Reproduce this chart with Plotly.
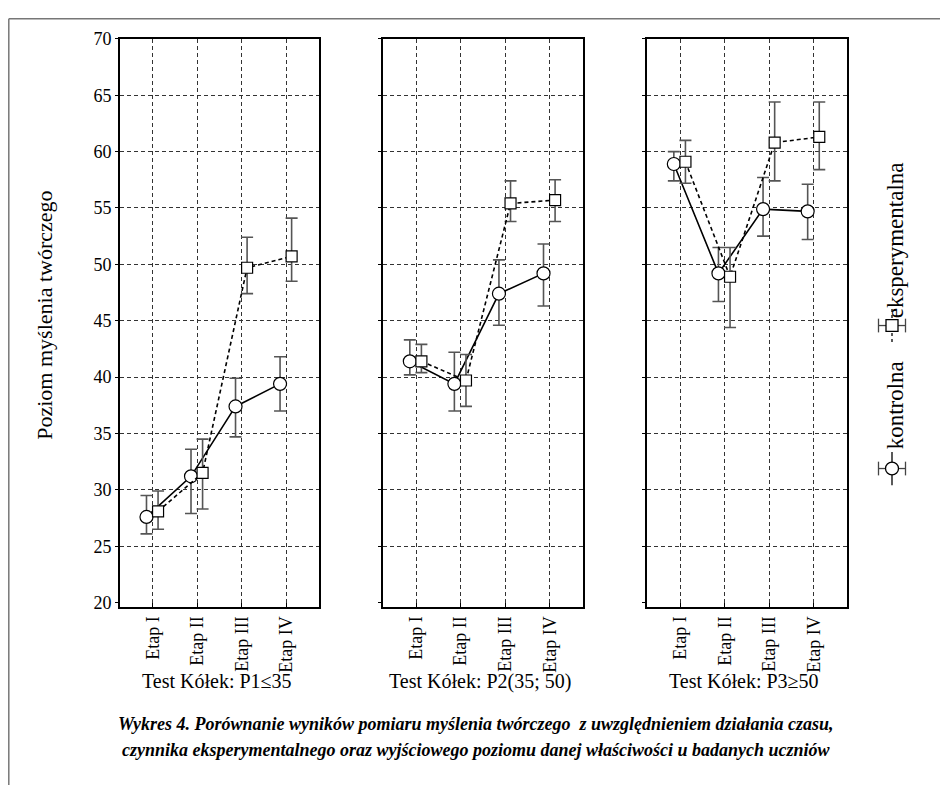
import plotly.graph_objects as go

# ---------------- data ----------------
stages = ["Etap I", "Etap II", "Etap III", "Etap IV"]
panel_titles = ["Test Kółek: P1≤35", "Test Kółek: P2(35; 50)", "Test Kółek: P3≥50"]
y_ticks = [20, 25, 30, 35, 40, 45, 50, 55, 60, 65, 70]

# kontrolna (circles, solid line)
kontrolna_p1 = [27.6, 31.2, 37.4, 39.4]
kontrolna_p1_hi = [29.5, 33.6, 39.9, 41.8]
kontrolna_p1_lo = [26.1, 27.9, 34.7, 37.0]
kontrolna_p2 = [41.4, 39.4, 47.4, 49.2]
kontrolna_p2_hi = [43.3, 42.2, 50.4, 51.8]
kontrolna_p2_lo = [40.2, 37.0, 44.6, 46.3]
kontrolna_p3 = [58.9, 49.2, 54.9, 54.7]
kontrolna_p3_hi = [60.0, 51.5, 57.7, 57.1]
kontrolna_p3_lo = [57.4, 46.7, 52.5, 52.2]

# eksperymentalna (squares, dashed line)
eksp_p1 = [28.1, 31.5, 49.7, 50.7]
eksp_p1_hi = [29.9, 34.5, 52.4, 54.1]
eksp_p1_lo = [26.5, 28.3, 47.4, 48.5]
eksp_p2 = [41.4, 39.7, 55.4, 55.7]
eksp_p2_hi = [42.9, 42.0, 57.4, 57.5]
eksp_p2_lo = [40.4, 37.4, 53.8, 53.8]
eksp_p3 = [59.1, 48.9, 60.8, 61.3]
eksp_p3_hi = [61.0, 51.5, 64.4, 64.4]
eksp_p3_lo = [57.2, 44.4, 57.4, 58.4]

kontrolna = [(kontrolna_p1, kontrolna_p1_hi, kontrolna_p1_lo),
             (kontrolna_p2, kontrolna_p2_hi, kontrolna_p2_lo),
             (kontrolna_p3, kontrolna_p3_hi, kontrolna_p3_lo)]
eksp = [(eksp_p1, eksp_p1_hi, eksp_p1_lo),
        (eksp_p2, eksp_p2_hi, eksp_p2_lo),
        (eksp_p3, eksp_p3_hi, eksp_p3_lo)]

# ---------------- layout helpers ----------------
PAGE_W, PAGE_H = 948, 793
BODY = 8  # default body margin of the html page
W, H = PAGE_W - 2 * BODY, PAGE_H - 2 * BODY


def px(x):
    return (x - BODY) / W


def py(y):
    return 1 - (y - BODY) / H


SERIF = "Liberation Serif"
panel_px = [(120, 319), (383.3, 582.5), (647.3, 846.7)]
y_top_px, y_bot_px = 29.3, 609.5
OFF_K, OFF_E = -0.14, 0.12

fig = go.Figure()

for i in range(3):
    xa = "x" if i == 0 else f"x{i+1}"
    ya = "y" if i == 0 else f"y{i+1}"
    xs = list(range(len(stages)))
    m, hi, lo = kontrolna[i]
    fig.add_trace(go.Scatter(
        x=[v + OFF_K for v in xs], y=m, xaxis=xa, yaxis=ya,
        mode="lines+markers", showlegend=False,
        line=dict(color="black", width=1.6),
        marker=dict(symbol="circle", size=13, color="white",
                    line=dict(color="black", width=1.2)),
        error_y=dict(type="data", symmetric=False,
                     array=[h - v for h, v in zip(hi, m)],
                     arrayminus=[v - l for v, l in zip(m, lo)],
                     color="#555", thickness=1.6, width=6),
    ))
    m, hi, lo = eksp[i]
    fig.add_trace(go.Scatter(
        x=[v + OFF_E for v in xs], y=m, xaxis=xa, yaxis=ya,
        mode="lines+markers", showlegend=False,
        line=dict(color="black", width=1.6, dash="4px,3px"),
        marker=dict(symbol="square", size=11, color="white",
                    line=dict(color="black", width=1.2)),
        error_y=dict(type="data", symmetric=False,
                     array=[h - v for h, v in zip(hi, m)],
                     arrayminus=[v - l for v, l in zip(m, lo)],
                     color="#555", thickness=1.6, width=6),
    ))

grid_style = dict(gridcolor="#333", gridwidth=1, griddash="4px,3px")
axis_common = dict(showline=True, linecolor="black", linewidth=2, mirror=True,
                   zeroline=False, tickfont=dict(family=SERIF, size=18, color="black"))

layout = dict(width=W, height=H, margin=dict(l=0, r=0, t=0, b=0),
              paper_bgcolor="white", plot_bgcolor="white", showlegend=False)

for i, (l, r) in enumerate(panel_px):
    sx = "" if i == 0 else str(i + 1)
    layout["xaxis" + sx] = dict(axis_common, **grid_style, showgrid=True,
                                domain=[px(l), px(r)], range=[-0.735, 3.735],
                                tickvals=list(range(len(stages))), ticktext=stages,
                                tickangle=-90, ticks="inside", ticklen=4, tickcolor="black",
                                anchor="y" + sx)
    layout["yaxis" + sx] = dict(axis_common, showgrid=False,
                                minor=dict(tickvals=y_ticks[1:], showgrid=True, **grid_style),
                                domain=[py(y_bot_px), py(y_top_px)],
                                range=[19.6, 70], tickvals=y_ticks,
                                showticklabels=(i == 0), ticks="outside", ticklen=3,
                                tickcolor="black", anchor="x" + sx)
    if i > 0:
        layout["yaxis" + sx]["matches"] = "y"

fig.update_layout(**layout)


def note(x, y, text, size, angle=0):
    return dict(x=px(x), y=py(y), xref="paper", yref="paper", text=text,
                showarrow=False, textangle=angle, xanchor="center", yanchor="middle",
                font=dict(family=SERIF, size=size, color="black"))


ann = []
for i, (l, r) in enumerate(panel_px):
    ann.append(note((l + r) / 2 - 3, 685, panel_titles[i], 20))
ann.append(note(45, 312, "Poziom myślenia twórczego", 22, -90))
ann.append(note(476, 729, "<b><i>Wykres 4. Porównanie wyników pomiaru myślenia twórczego  z uwzględnieniem działania czasu,</i></b>", 18))
ann.append(note(476, 755, "<b><i>czynnika eksperymentalnego oraz wyjściowego poziomu danej właściwości u badanych uczniów</i></b>", 18))
ann.append(note(895, 403.5, "kontrolna", 23, -90))
ann.append(note(895, 235, "eksperymentalna", 23, -90))
fig.update_layout(annotations=ann)

# legend glyphs and outer frame
shapes = []
lk = dict(color="black", width=1.3)
le = dict(color="#444", width=1.3)


def seg(x0, y0, x1, y1, line):
    return dict(type="line", xref="paper", yref="paper", x0=px(x0), x1=px(x1),
                y0=py(y0), y1=py(y1), line=line)


def glyph(cx, cy, kind, vline):
    out = [seg(cx, cy - 17, cx, cy + 17, vline),
           seg(cx - 13.5, cy, cx + 13.5, cy, le),
           seg(cx - 13.5, cy - 7, cx - 13.5, cy + 7, le),
           seg(cx + 13.5, cy - 7, cx + 13.5, cy + 7, le)]
    r = 6.5 if kind == "circle" else 6
    out.append(dict(type=kind, xref="paper", yref="paper", x0=px(cx - r), x1=px(cx + r),
                    y0=py(cy - r), y1=py(cy + r), fillcolor="white", line=lk))
    return out


shapes += glyph(892, 468, "circle", lk)
shapes += glyph(892, 322, "rect", dict(color="black", width=1.3, dash="3px,3px"))
# outer frame (top and left edges)
fr = dict(color="#777", width=1.5)
shapes += [seg(BODY + 0.8, BODY + 0.8, PAGE_W + 5, BODY + 0.8, fr),
           seg(BODY + 0.8, BODY + 0.8, BODY + 0.8, PAGE_H + 5, fr)]
fig.update_layout(shapes=shapes)

fig.write_html("out.html", config={"displayModeBar": False})
